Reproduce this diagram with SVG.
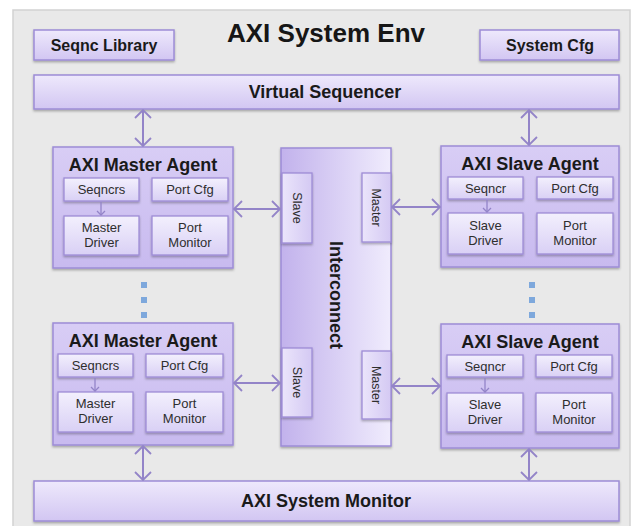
<svg xmlns="http://www.w3.org/2000/svg" width="641" height="526" viewBox="0 0 641 526">
  <defs>
    <linearGradient id="gBar" x1="0" y1="0" x2="0" y2="1">
      <stop offset="0" stop-color="#eee9fc"/>
      <stop offset="1" stop-color="#d2c6f2"/>
    </linearGradient>
    <linearGradient id="gAgent" x1="0" y1="0" x2="0" y2="1">
      <stop offset="0" stop-color="#d8cdf5"/>
      <stop offset="1" stop-color="#c8baef"/>
    </linearGradient>
    <linearGradient id="gSub" x1="0" y1="0" x2="0" y2="1">
      <stop offset="0" stop-color="#f3f0fd"/>
      <stop offset="1" stop-color="#d9d0f5"/>
    </linearGradient>
    <linearGradient id="gIC" x1="0" y1="0" x2="1" y2="0">
      <stop offset="0" stop-color="#c2b2ec"/>
      <stop offset="1" stop-color="#f0ecfd"/>
    </linearGradient>
    <linearGradient id="gPort" x1="0" y1="0" x2="1" y2="0">
      <stop offset="0" stop-color="#ebe5fb"/>
      <stop offset="1" stop-color="#d4c9f3"/>
    </linearGradient>
    <filter id="shadow" x="-10%" y="-10%" width="120%" height="130%">
      <feDropShadow dx="0" dy="1.5" stdDeviation="1.2" flood-color="#000" flood-opacity="0.3"/>
    </filter>
    <marker id="head" viewBox="0 0 10 18" refX="9" refY="9" markerWidth="10" markerHeight="18" markerUnits="userSpaceOnUse" orient="auto-start-reverse">
      <path d="M1,1 L9,9 L1,17" fill="none" stroke="#9384c8" stroke-width="1.8"/>
    </marker>
    <marker id="tip" viewBox="0 0 6 10" refX="5" refY="5" markerWidth="6" markerHeight="10" markerUnits="userSpaceOnUse" orient="auto">
      <path d="M1,1 L5,5 L1,9" fill="none" stroke="#9384c8" stroke-width="1.3"/>
    </marker>
    <style>
      .frame { fill: #e9e9e9; stroke: #d2d2d2; stroke-width: 1.5; }
      .bar { fill: url(#gBar); stroke: #9d8cd6; stroke-width: 1.5; filter: url(#shadow); }
      .agent { fill: url(#gAgent); stroke: #9d8cd6; stroke-width: 1.5; filter: url(#shadow); }
      .sub { fill: url(#gSub); stroke: #9d8cd6; stroke-width: 1.3; filter: url(#shadow); }
      .ic { fill: url(#gIC); stroke: #9d8cd6; stroke-width: 1.5; filter: url(#shadow); }
      .port { fill: url(#gPort); stroke: #9d8cd6; stroke-width: 1.3; filter: url(#shadow); }
      .link { fill: none; stroke: #9384c8; stroke-width: 2; marker-start: url(#head); marker-end: url(#head); }
      .step { fill: none; stroke: #9384c8; stroke-width: 1.3; marker-end: url(#tip); }
      .dot { fill: #7ea8dc; }
      text { font-family: "Liberation Sans", Arial, sans-serif; text-anchor: middle; }
      .title { font-size: 26px; font-weight: bold; fill: #161616; }
      .big { font-size: 18px; font-weight: bold; fill: #1a1a1a; }
      .mid { font-size: 16px; font-weight: bold; fill: #1a1a1a; }
      .small { font-size: 13px; fill: #2e2e2e; }
      .tiny { font-size: 12.5px; fill: #2e2e2e; }
    </style>
  </defs>

  <rect width="641" height="526" fill="#ffffff"/>
  <rect class="frame" x="13" y="10" width="617" height="520"/>
  <text class="title" x="326" y="42">AXI System Env</text>

  <g id="seqnc-library">
    <rect class="bar" x="34" y="30" width="140" height="30"/>
    <text class="mid" x="104" y="51">Seqnc Library</text>
  </g>

  <g id="system-cfg">
    <rect class="bar" x="480" y="30" width="139" height="30"/>
    <text class="mid" x="550" y="51">System Cfg</text>
  </g>

  <g id="virtual-sequencer">
    <rect class="bar" x="34" y="75" width="585" height="34"/>
    <text class="big" x="325" y="98">Virtual Sequencer</text>
  </g>

  <g id="master-agent-1">
    <rect class="agent" x="53" y="147" width="180" height="121"/>
    <text class="big" x="143" y="171">AXI Master Agent</text>
    <rect class="sub" x="64" y="178" width="75" height="23"/>
    <text class="small" x="101.5" y="194">Seqncrs</text>
    <rect class="sub" x="152" y="178" width="76" height="23"/>
    <text class="small" x="190" y="194">Port Cfg</text>
    <rect class="sub" x="64" y="216" width="75" height="39"/>
    <text class="small" x="101.5" y="232">Master</text>
    <text class="small" x="101.5" y="247">Driver</text>
    <rect class="sub" x="152" y="216" width="76" height="39"/>
    <text class="small" x="190" y="232">Port</text>
    <text class="small" x="190" y="247">Monitor</text>
  </g>

  <g id="master-agent-2">
    <rect class="agent" x="53" y="323" width="180" height="122"/>
    <text class="big" x="143" y="347">AXI Master Agent</text>
    <rect class="sub" x="58" y="354" width="75" height="23"/>
    <text class="small" x="95.5" y="370">Seqncrs</text>
    <rect class="sub" x="146" y="354" width="77" height="23"/>
    <text class="small" x="184.5" y="370">Port Cfg</text>
    <rect class="sub" x="58" y="392" width="75" height="40"/>
    <text class="small" x="95.5" y="408">Master</text>
    <text class="small" x="95.5" y="423">Driver</text>
    <rect class="sub" x="146" y="392" width="77" height="40"/>
    <text class="small" x="184.5" y="408">Port</text>
    <text class="small" x="184.5" y="423">Monitor</text>
  </g>

  <g id="slave-agent-1">
    <rect class="agent" x="441" y="146" width="178" height="121"/>
    <text class="big" x="530" y="170">AXI Slave Agent</text>
    <rect class="sub" x="448" y="177" width="75" height="22"/>
    <text class="small" x="485.5" y="193">Seqncr</text>
    <rect class="sub" x="537" y="177" width="76" height="22"/>
    <text class="small" x="575" y="193">Port Cfg</text>
    <rect class="sub" x="448" y="213" width="75" height="41"/>
    <text class="small" x="485.5" y="230">Slave</text>
    <text class="small" x="485.5" y="245">Driver</text>
    <rect class="sub" x="537" y="213" width="76" height="41"/>
    <text class="small" x="575" y="230">Port</text>
    <text class="small" x="575" y="245">Monitor</text>
  </g>

  <g id="slave-agent-2">
    <rect class="agent" x="441" y="324" width="178" height="124"/>
    <text class="big" x="530" y="348">AXI Slave Agent</text>
    <rect class="sub" x="447" y="355" width="76" height="22"/>
    <text class="small" x="485" y="371">Seqncr</text>
    <rect class="sub" x="536" y="355" width="76" height="22"/>
    <text class="small" x="574" y="371">Port Cfg</text>
    <rect class="sub" x="447" y="393" width="76" height="39"/>
    <text class="small" x="485" y="409">Slave</text>
    <text class="small" x="485" y="424">Driver</text>
    <rect class="sub" x="536" y="393" width="76" height="39"/>
    <text class="small" x="574" y="409">Port</text>
    <text class="small" x="574" y="424">Monitor</text>
  </g>

  <g id="interconnect">
    <rect class="ic" x="281" y="148" width="110" height="298"/>
    <text class="big" transform="translate(336,295) rotate(90)" dy="0.35em">Interconnect</text>
    <rect class="port" x="282" y="173" width="30" height="70"/>
    <text class="tiny" transform="translate(297,208) rotate(90)" dy="0.35em">Slave</text>
    <rect class="port" x="362" y="173" width="29" height="69"/>
    <text class="tiny" transform="translate(376.5,207.5) rotate(90)" dy="0.35em">Master</text>
    <rect class="port" x="282" y="348" width="30" height="69"/>
    <text class="tiny" transform="translate(297,382.5) rotate(90)" dy="0.35em">Slave</text>
    <rect class="port" x="362" y="351" width="29" height="68"/>
    <text class="tiny" transform="translate(376.5,385) rotate(90)" dy="0.35em">Master</text>
  </g>

  <g id="system-monitor">
    <rect class="bar" x="34" y="481" width="585" height="40"/>
    <text class="big" x="326" y="507">AXI System Monitor</text>
  </g>

  <g id="connectors">
    <line class="link" x1="143" y1="110" x2="143" y2="146"/>
    <line class="link" x1="529" y1="110" x2="529" y2="145"/>
    <line class="link" x1="234" y1="209" x2="280" y2="209"/>
    <line class="link" x1="392" y1="207" x2="440" y2="207"/>
    <line class="link" x1="234" y1="383" x2="280" y2="383"/>
    <line class="link" x1="392" y1="386" x2="440" y2="386"/>
    <line class="link" x1="143" y1="446" x2="143" y2="480"/>
    <line class="link" x1="529" y1="449" x2="529" y2="480"/>
    <line class="step" x1="101" y1="202" x2="101" y2="215"/>
    <line class="step" x1="487" y1="200" x2="487" y2="212"/>
    <line class="step" x1="95" y1="378" x2="95" y2="391"/>
    <line class="step" x1="485" y1="378" x2="485" y2="392"/>
  </g>

  <g id="ellipsis-left">
    <rect class="dot" x="141" y="282" width="6" height="6"/>
    <rect class="dot" x="141" y="297" width="6" height="6"/>
    <rect class="dot" x="141" y="312" width="6" height="6"/>
  </g>
  <g id="ellipsis-right">
    <rect class="dot" x="529" y="282" width="6" height="6"/>
    <rect class="dot" x="529" y="297" width="6" height="6"/>
    <rect class="dot" x="529" y="312" width="6" height="6"/>
  </g>
</svg>
